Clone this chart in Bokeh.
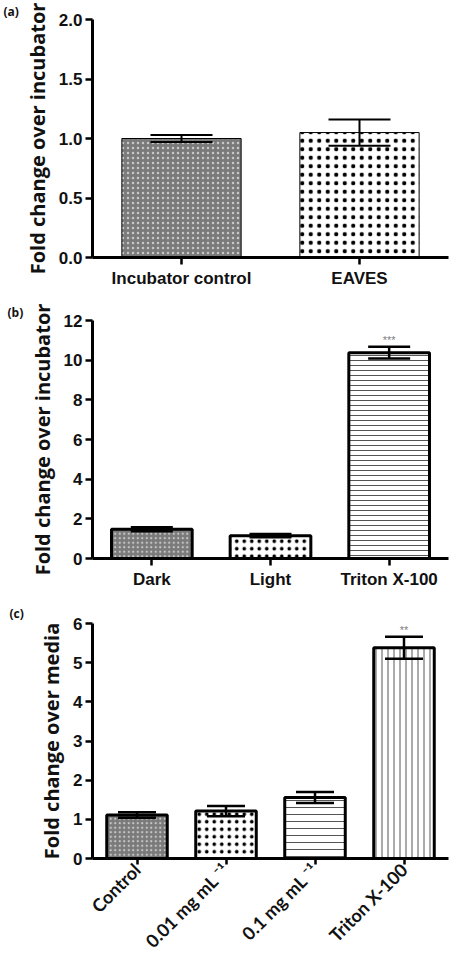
from bokeh.plotting import figure
from bokeh.layouts import column
from bokeh.models import (ColumnDataSource, Whisker, TeeHead, FixedTicker,
                          NumeralTickFormatter, Range1d, FactorRange)
from bokeh.core.properties import value
from bokeh.embed import file_html
from bokeh.resources import INLINE
import math

# ---------------- data ----------------
a_cats = ["Incubator control", "EAVES"]
a_vals = [1.00, 1.05]
a_errs = [0.03, 0.11]
a_ticks = [0.0, 0.5, 1.0, 1.5, 2.0]

b_cats = ["Dark", "Light", "Triton X-100"]
b_vals = [1.47, 1.15, 10.38]
b_errs = [0.10, 0.08, 0.30]
b_ticks = [0, 2, 4, 6, 8, 10, 12]
b_sig = ["", "", "***"]

c_cats = ["Control", "0.01 mg mL \u207b\u00b9", "0.1 mg mL \u207b\u00b9", "Triton X-100"]
c_vals = [1.11, 1.21, 1.56, 5.38]
c_errs = [0.07, 0.13, 0.14, 0.28]
c_ticks = [0, 1, 2, 3, 4, 5, 6]
c_sig = ["", "", "", "**"]

# ---------------- styles ----------------
GREY = dict(fill_color="#7a7a7a", hatch_pattern="dot", hatch_scale=5, hatch_weight=1, hatch_color="#c8c8c8")
GREY_B = dict(fill_color="#7a7a7a", hatch_pattern="dot", hatch_scale=4.5, hatch_weight=1, hatch_color="#c8c8c8")
CHECK = dict(fill_color="white", hatch_pattern="dot", hatch_scale=8.5, hatch_weight=1, hatch_color="black")
CHECK_B = dict(fill_color="white", hatch_pattern="dot", hatch_scale=7.5, hatch_weight=1, hatch_color="black")
HLINE = dict(fill_color="white", hatch_pattern="horizontal_line", hatch_scale=5, hatch_weight=1, hatch_color="#555555")
HLINE_C = dict(fill_color="white", hatch_pattern="horizontal_line", hatch_scale=7, hatch_weight=1, hatch_color="#555555")
VLINE = dict(fill_color="white", hatch_pattern="vertical_line", hatch_scale=6, hatch_weight=1, hatch_color="#555555")

TICK_FONT = "Liberation Sans"
LABEL_FONT = "Open Sans"


def make_panel(cats, vals, errs, ticks, styles, tag, tag_standoff, ylabel, height, borders,
               outline_w, cap, bar_w, sig=None, rotate=False, fmt=None, xfont=TICK_FONT,
               xsize="17px", whisk_w=2):
    left, right, top, bottom = borders
    p = figure(x_range=FactorRange(*cats, range_padding=0),
               y_range=Range1d(ticks[0], ticks[-1]),
               width=453, height=height, output_backend="svg", toolbar_location=None,
               min_border_left=left, min_border_right=right,
               min_border_top=top, min_border_bottom=bottom)
    p.outline_line_color = None
    p.xgrid.grid_line_color = None
    p.ygrid.grid_line_color = None
    p.background_fill_color = "white"
    p.border_fill_color = "white"

    for i, c in enumerate(cats):
        p.vbar(x=[c], top=[vals[i]], bottom=0, width=bar_w, line_color="black",
               line_width=outline_w, **styles[i])

    src = ColumnDataSource(dict(x=cats,
                                upper=[v + e for v, e in zip(vals, errs)],
                                lower=[v - e for v, e in zip(vals, errs)]))
    w = Whisker(base="x", upper="upper", lower="lower", source=src,
                line_color="black", line_width=whisk_w, level="overlay",
                upper_head=TeeHead(size=cap, line_color="black", line_width=whisk_w),
                lower_head=TeeHead(size=cap, line_color="black", line_width=whisk_w))
    p.add_layout(w)

    if sig:
        sx = [c for c, s in zip(cats, sig) if s]
        sy = [v + e for v, e, s in zip(vals, errs, sig) if s]
        st = [s for s in sig if s]
        p.text(x=sx, y=sy, text=st, text_align="center", text_baseline="bottom",
               text_color="#808080", text_font_size="11px", y_offset=-1,
               text_font=value(TICK_FONT))

    for ax in (p.xaxis[0], p.yaxis[0]):
        ax.axis_line_width = 3
        ax.axis_line_color = "black"
        ax.major_tick_line_width = 2.5
        ax.major_tick_line_color = "black"
        ax.major_tick_in = 0
        ax.major_tick_out = 7
        ax.minor_tick_line_color = None
        ax.major_label_text_font_style = "bold"
        ax.major_label_text_color = "#111111"

    p.yaxis.ticker = FixedTicker(ticks=ticks)
    if fmt:
        p.yaxis.formatter = NumeralTickFormatter(format=fmt)
    p.yaxis.major_label_text_font = TICK_FONT
    p.yaxis.major_label_text_font_size = "17px"
    p.yaxis.major_label_standoff = 3
    p.yaxis.axis_label = ylabel
    p.yaxis.axis_label_text_font = LABEL_FONT
    p.yaxis.axis_label_text_font_style = "bold"
    p.yaxis.axis_label_text_font_size = "20px"
    p.yaxis.axis_label_text_color = "#111111"
    p.yaxis.axis_label_standoff = 5

    p.xaxis.major_label_text_font = xfont
    p.xaxis.major_label_text_font_size = xsize
    p.xaxis.major_label_standoff = 4 if not rotate else 2
    if rotate:
        p.xaxis.major_label_orientation = math.pi / 4
        p.xaxis.major_tick_out = 6

    # panel tag "(a)" etc. as a left-aligned title shifted to the page's left edge
    p.title.text = tag
    p.title.align = "left"
    p.title.offset = 3 - left
    p.title.standoff = tag_standoff
    p.title.text_font = LABEL_FONT
    p.title.text_font_style = "bold"
    p.title.text_font_size = "12px"
    p.title.text_color = "#111111"
    p.title.vertical_align = "bottom"
    return p


pa = make_panel(a_cats, a_vals, a_errs, a_ticks, [GREY, CHECK], "(a)", 0,
                "Fold change over incubator", 297, (92, 1, 19, 40),
                outline_w=1, cap=62, bar_w=0.67, fmt="0.0")
pb = make_panel(b_cats, b_vals, b_errs, b_ticks, [GREY_B, CHECK_B, HLINE], "(b)", 0,
                "Fold change over incubator", 303, (88, 5, 23, 42),
                outline_w=3, cap=42, bar_w=0.68, sig=b_sig, whisk_w=2.5)
pc = make_panel(c_cats, c_vals, c_errs, c_ticks, [GREY_B, CHECK_B, HLINE_C, VLINE], "(c)", 4,
                "Fold change over media", 362, (86, 3, 21, 102),
                outline_w=3, cap=38, bar_w=0.68, sig=c_sig, rotate=True,
                xfont="Lato", xsize="18px", whisk_w=2.5)

layout = column(pa, pb, pc, spacing=0)
open("out.html", "w").write(file_html(layout, INLINE))
